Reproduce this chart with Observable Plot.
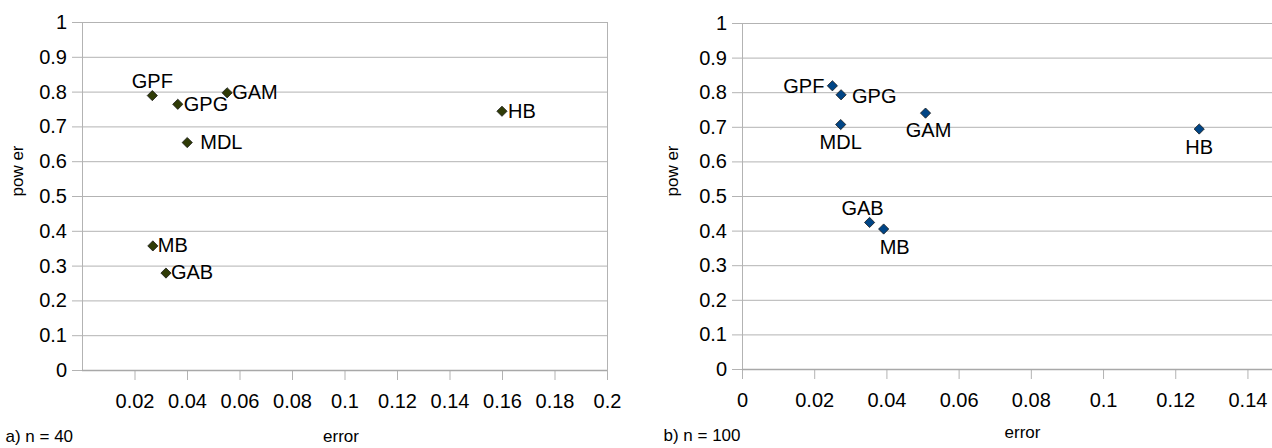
<!DOCTYPE html>
<html><head><meta charset="utf-8">
<script src="https://cdn.jsdelivr.net/npm/d3@7"></script>
<script src="https://cdn.jsdelivr.net/npm/@observablehq/plot@0.6"></script>
<style>
html,body{margin:0;padding:0;background:#fff;}
#wrap{position:relative;width:1272px;height:448px;overflow:hidden;font-family:"Liberation Sans",Arial,sans-serif;}
#a{position:absolute;left:0;top:0;}
#b{position:absolute;left:636px;top:0;}
</style></head><body><div id="wrap"><div id="a"></div><div id="b"></div></div>
<script>
// ---- data ----
const methodsA = ["GPF", "GPG", "GAM", "MDL", "MB", "GAB", "HB"];
const errorA   = [0.0266, 0.0363, 0.0551, 0.0399, 0.0268, 0.0318, 0.1598];
const powerA   = [0.790, 0.765, 0.798, 0.655, 0.358, 0.280, 0.745];

const methodsB = ["GPF", "GPG", "MDL", "GAM", "GAB", "MB", "HB"];
const errorB   = [0.0249, 0.0273, 0.0272, 0.0507, 0.0352, 0.0391, 0.1265];
const powerB   = [0.820, 0.794, 0.708, 0.741, 0.425, 0.406, 0.695];

const yTicks      = [0, 0.1, 0.2, 0.3, 0.4, 0.5, 0.6, 0.7, 0.8, 0.9, 1];
const yTickLabels = ["0", "0.1", "0.2", "0.3", "0.4", "0.5", "0.6", "0.7", "0.8", "0.9", "1"];
const xTicksA      = [0.02, 0.04, 0.06, 0.08, 0.1, 0.12, 0.14, 0.16, 0.18, 0.2];
const xTickLabelsA = ["0.02", "0.04", "0.06", "0.08", "0.1", "0.12", "0.14", "0.16", "0.18", "0.2"];
const xTicksB      = [0, 0.02, 0.04, 0.06, 0.08, 0.1, 0.12, 0.14];
const xTickLabelsB = ["0", "0.02", "0.04", "0.06", "0.08", "0.1", "0.12", "0.14"];

// ---- label placement (style) ----
const placeA = {
  GPF: {textAnchor: "middle", lineAnchor: "bottom", dx: 0, dy: -8},
  GPG: {textAnchor: "start", lineAnchor: "middle", dx: 6, dy: 0},
  GAM: {textAnchor: "start", lineAnchor: "middle", dx: 5, dy: 0},
  MDL: {textAnchor: "start", lineAnchor: "middle", dx: 13, dy: 0},
  MB:  {textAnchor: "start", lineAnchor: "middle", dx: 5, dy: 0},
  GAB: {textAnchor: "start", lineAnchor: "middle", dx: 5, dy: 0},
  HB:  {textAnchor: "start", lineAnchor: "middle", dx: 6, dy: 0}
};
const placeB = {
  GPF: {textAnchor: "end", lineAnchor: "middle", dx: -8, dy: 1},
  GPG: {textAnchor: "start", lineAnchor: "middle", dx: 11, dy: 2},
  MDL: {textAnchor: "middle", lineAnchor: "top", dx: 0, dy: 10},
  GAM: {textAnchor: "middle", lineAnchor: "top", dx: 3, dy: 10},
  GAB: {textAnchor: "middle", lineAnchor: "bottom", dx: -7, dy: -7},
  MB:  {textAnchor: "middle", lineAnchor: "top", dx: 11, dy: 11},
  HB:  {textAnchor: "middle", lineAnchor: "top", dx: 0, dy: 11}
};

const gray = "#b3b3b3";
const font = "Liberation Sans, Arial, sans-serif";

function chart(cfg) {
  const data = cfg.methods.map((m, i) => ({method: m, error: cfg.error[i], power: cfg.power[i]}));
  const marks = [
    Plot.gridY(yTicks, {stroke: gray, strokeOpacity: 1}),
    Plot.axisY(yTicks, {tickSize: 10, tickPadding: 5.5, stroke: gray, strokeOpacity: 1, fill: "#000", fontSize: 20,
      tickFormat: d => yTickLabels[yTicks.indexOf(d)], label: null}),
    Plot.axisX(cfg.xTicks, {tickSize: 10, tickPadding: 13, stroke: gray, strokeOpacity: 1, fill: "#000", fontSize: 20,
      tickFormat: d => cfg.xLabels[cfg.xTicks.indexOf(d)], label: null}),
    Plot.ruleX([cfg.xDomain[0]], {stroke: gray}),
    Plot.ruleY([0], {stroke: "#a8a8a8", strokeWidth: 1.3}),
  ];
  if (cfg.rightBorder) marks.push(Plot.ruleX([cfg.xDomain[1]], {stroke: gray}));
  marks.push(Plot.dot(data, {x: "error", y: "power", symbol: "diamond2", r: 4.6, fill: cfg.fill, stroke: "#1a1a1a", strokeWidth: 0.8}));
  for (const m of cfg.methods) {
    const p = cfg.place[m];
    marks.push(Plot.text(data.filter(d => d.method === m), {x: "error", y: "power", text: "method",
      textAnchor: p.textAnchor, lineAnchor: p.lineAnchor, dx: p.dx, dy: p.dy, fontSize: 20, fill: "#000"}));
  }
  marks.push(Plot.text(["error"], {text: d => d, frameAnchor: "bottom", lineAnchor: "middle", dx: cfg.errDx, dy: cfg.errDy, fontSize: 17, fill: "#000"}));
  marks.push(Plot.text(["pow er"], {text: d => d, frameAnchor: "left", rotate: -90, lineAnchor: "middle", dx: cfg.powDx, fontSize: 17, fill: "#000"}));
  marks.push(Plot.text([cfg.caption], {text: d => d, frameAnchor: "bottom-left", textAnchor: "start", lineAnchor: "middle", dx: cfg.capDx, dy: cfg.capDy, fontSize: 17, fill: "#000"}));
  return Plot.plot({
    width: 636, height: 448,
    marginLeft: cfg.ml, marginRight: cfg.mr, marginTop: cfg.mt, marginBottom: cfg.mb,
    x: {domain: cfg.xDomain},
    y: {domain: [0, 1]},
    style: {fontFamily: font, fontSize: "20px", background: "white", overflow: "visible", color: "#000"},
    marks
  });
}

document.getElementById("a").appendChild(chart({
  methods: methodsA, error: errorA, power: powerA, place: placeA,
  xDomain: [0, 0.2], xTicks: xTicksA, xLabels: xTickLabelsA, fill: "#2f3b06", rightBorder: true,
  ml: 82, mr: 29, mt: 22, mb: 78,
  errDx: -4, errDy: 66, powDx: -65, caption: "a) n = 40", capDx: -77, capDy: 66
}));
document.getElementById("b").appendChild(chart({
  methods: methodsB, error: errorB, power: powerB, place: placeB,
  xDomain: [0, 0.1468], xTicks: xTicksB, xLabels: xTickLabelsB, fill: "#004586", rightBorder: false,
  ml: 106, mr: 0, mt: 23, mb: 79,
  errDx: 15, errDy: 63, powDx: -70, caption: "b) n = 100", capDx: -79, capDy: 66
}));
</script></body></html>
